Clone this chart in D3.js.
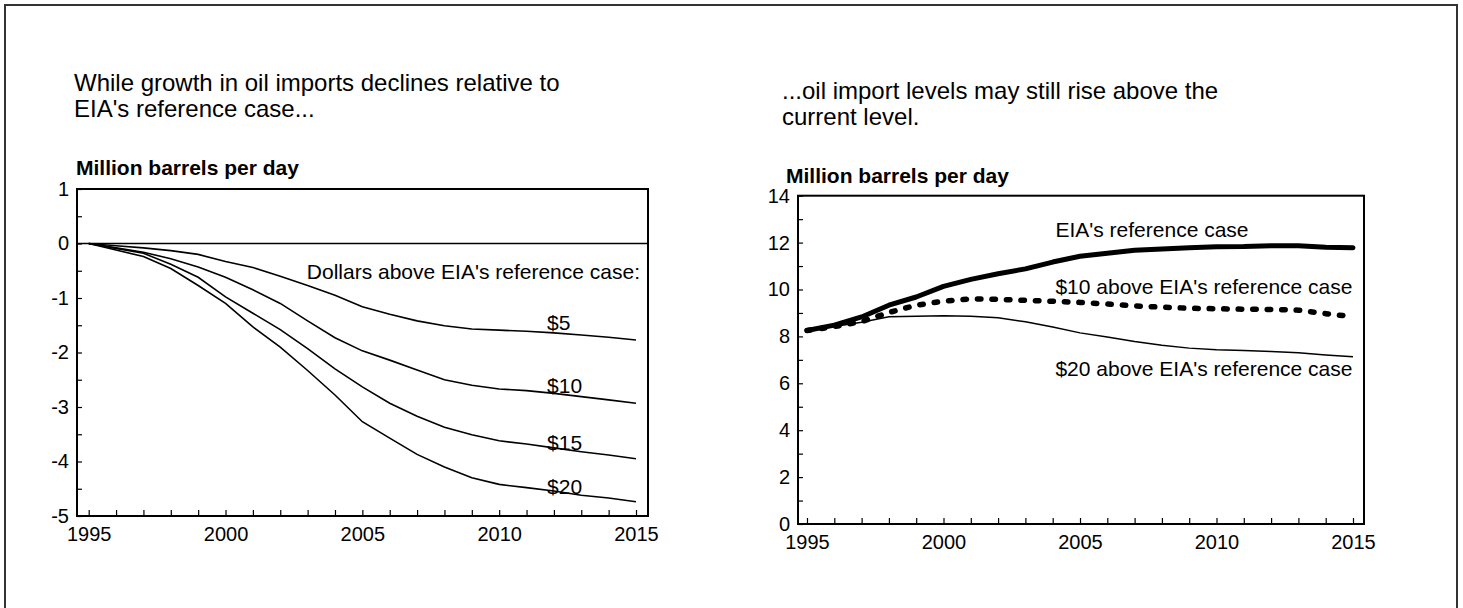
<!DOCTYPE html>
<html>
<head>
<meta charset="utf-8">
<script src="https://cdn.jsdelivr.net/npm/d3@7"></script>
<style>
  html, body { margin: 0; padding: 0; background: #fff; }
  svg { display: block; font-family: "Liberation Sans", Arial, sans-serif; }
</style>
</head>
<body>
<svg id="chart" width="1463" height="608"></svg>
<script>
// ---------- DATA ----------
const years = [1995,1996,1997,1998,1999,2000,2001,2002,2003,2004,2005,2006,2007,2008,2009,2010,2011,2012,2013,2014,2015];
const yearLabels = [1995, 2000, 2005, 2010, 2015];

// Left panel: change in imports vs. EIA reference case (million b/d)
const diff5  = [0,-0.04,-0.08,-0.13,-0.20,-0.33,-0.44,-0.60,-0.77,-0.95,-1.16,-1.30,-1.42,-1.51,-1.57,-1.59,-1.61,-1.64,-1.68,-1.72,-1.77];
const diff10 = [0,-0.08,-0.16,-0.28,-0.43,-0.62,-0.85,-1.10,-1.42,-1.73,-1.97,-2.14,-2.32,-2.50,-2.60,-2.67,-2.70,-2.75,-2.81,-2.87,-2.93];
const diff15 = [0,-0.09,-0.18,-0.38,-0.62,-0.98,-1.28,-1.58,-1.93,-2.30,-2.63,-2.93,-3.17,-3.37,-3.51,-3.62,-3.68,-3.75,-3.82,-3.88,-3.95];
const diff20 = [0,-0.12,-0.24,-0.46,-0.77,-1.10,-1.53,-1.90,-2.33,-2.78,-3.27,-3.57,-3.87,-4.10,-4.30,-4.42,-4.48,-4.54,-4.62,-4.67,-4.74];
const leftSeriesNames = ["$5", "$10", "$15", "$20"];
const leftYTicks = [1, 0, -1, -2, -3, -4, -5];

// Right panel: import levels (million b/d)
const refCase   = [8.25,8.48,8.83,9.33,9.68,10.13,10.43,10.67,10.88,11.17,11.42,11.55,11.67,11.73,11.78,11.82,11.83,11.87,11.87,11.80,11.78];
const above10   = [8.25,8.42,8.63,9.02,9.33,9.50,9.60,9.58,9.54,9.50,9.45,9.38,9.30,9.25,9.20,9.18,9.16,9.15,9.12,8.97,8.84];
const above20   = [8.25,8.42,8.60,8.84,8.86,8.88,8.86,8.80,8.62,8.40,8.15,7.97,7.78,7.62,7.50,7.43,7.40,7.36,7.30,7.21,7.13];
const rightSeriesNames = ["EIA's reference case", "$10 above EIA's reference case", "$20 above EIA's reference case"];
const rightYTicks = [0, 2, 4, 6, 8, 10, 12, 14];

const leftTitle = ["While growth in oil imports declines relative to", "EIA's reference case..."];
const rightTitle = ["...oil import levels may still rise above the", "current level."];
const unitLabel = "Million barrels per day";
const legendNote = "Dollars above EIA's reference case:";

// ---------- DRAW ----------
const svg = d3.select("#chart");

// outer frame
svg.append("rect").attr("x", 5).attr("y", 5).attr("width", 1452).attr("height", 610)
  .attr("fill", "none").attr("stroke", "#333").attr("stroke-width", 2);

function titleBlock(lines, x, y0, lh) {
  const t = svg.append("text").attr("x", x).attr("y", y0).attr("font-size", 24).attr("fill", "#000");
  lines.forEach((l, i) => t.append("tspan").attr("x", x).attr("y", y0 + i * lh).text(l));
}
titleBlock(leftTitle, 74, 91, 26);
titleBlock(rightTitle, 782, 99, 26);
svg.append("text").attr("x", 76).attr("y", 175).attr("font-size", 21).attr("font-weight", "bold").text(unitLabel);
svg.append("text").attr("x", 786).attr("y", 183).attr("font-size", 21).attr("font-weight", "bold").text(unitLabel);

function panel(opts) {
  const { x, y, frame, yTicks, yMinor } = opts;
  const g = svg.append("g");
  const xa = d3.axisBottom(x).tickValues(years).tickSizeInner(-6).tickSizeOuter(0).tickPadding(11)
    .tickFormat(d => yearLabels.includes(d) ? d : "");
  const gx = g.append("g").attr("transform", `translate(0,${frame.y1})`).call(xa);
  gx.select(".domain").remove();
  gx.selectAll("line").attr("stroke", "#000").attr("stroke-width", 1.2);
  gx.selectAll("text").attr("font-size", 20).attr("fill", "#000").attr("font-family", "Liberation Sans, Arial, sans-serif");

  const ya = d3.axisLeft(y).tickValues(yMinor).tickSizeInner(-5).tickSizeOuter(0).tickPadding(8)
    .tickFormat(d => yTicks.includes(d) ? d : "");
  const gy = g.append("g").attr("transform", `translate(${frame.x0},0)`).call(ya);
  gy.select(".domain").remove();
  gy.selectAll("line").attr("stroke", "#000").attr("stroke-width", 1.2);
  gy.selectAll("text").attr("font-size", 20).attr("fill", "#000").attr("font-family", "Liberation Sans, Arial, sans-serif")
    .text(d => yTicks.includes(d) ? String(d).replace("\u2212", "-") : "");

  g.append("rect").attr("x", frame.x0).attr("y", frame.y0)
    .attr("width", frame.x1 - frame.x0).attr("height", frame.y1 - frame.y0)
    .attr("fill", "none").attr("stroke", "#000").attr("stroke-width", 2);
  return g;
}

// ----- Left panel -----
const xL = d3.scaleLinear().domain([1995, 2015]).range([88.7, 636]);
const yL = d3.scaleLinear().domain([-5, 1]).range([516, 189]);
const frameL = { x0: 77, x1: 648, y0: 189, y1: 516 };
const gL = panel({ x: xL, y: yL, frame: frameL, yTicks: leftYTicks, yMinor: d3.range(-5, 1.01, 0.5).map(v => +v.toFixed(1)) });

gL.append("line").attr("x1", frameL.x0).attr("x2", frameL.x1).attr("y1", yL(0)).attr("y2", yL(0))
  .attr("stroke", "#000").attr("stroke-width", 1.5);

const lineL = d3.line().x((d, i) => xL(years[i])).y(d => yL(d));
[diff5, diff10, diff15, diff20].forEach(s => {
  gL.append("path").datum(s).attr("d", lineL).attr("fill", "none").attr("stroke", "#000").attr("stroke-width", 1.6);
});
const leftLabelPos = [[2011.75, -1.58], [2011.75, -2.75], [2011.75, -3.78], [2011.75, -4.6]];
leftSeriesNames.forEach((n, i) => {
  gL.append("text").attr("x", xL(leftLabelPos[i][0])).attr("y", yL(leftLabelPos[i][1]))
    .attr("font-size", 21).attr("fill", "#000").text(n);
});
gL.append("text").attr("x", 640).attr("y", yL(-0.66)).attr("text-anchor", "end")
  .attr("font-size", 21).attr("fill", "#000").text(legendNote);

// ----- Right panel -----
const xR = d3.scaleLinear().domain([1995, 2015]).range([807, 1353]);
const yR = d3.scaleLinear().domain([0, 14]).range([524, 195.7]);
const frameR = { x0: 798, x1: 1364, y0: 195.7, y1: 524 };
const gR = panel({ x: xR, y: yR, frame: frameR, yTicks: rightYTicks, yMinor: d3.range(0, 14.01, 1) });

const lineR = d3.line().x((d, i) => xR(years[i])).y(d => yR(d));
gR.append("path").datum(above20).attr("d", lineR).attr("fill", "none").attr("stroke", "#000").attr("stroke-width", 1.5);
gR.append("path").datum(above10).attr("d", lineR).attr("fill", "none").attr("stroke", "#000").attr("stroke-width", 5.5)
  .attr("stroke-dasharray", "3.5,11").attr("stroke-linecap", "round");
gR.append("path").datum(refCase).attr("d", lineR).attr("fill", "none").attr("stroke", "#000").attr("stroke-width", 5)
  .attr("stroke-linejoin", "round").attr("stroke-linecap", "round");

const rightLabelPos = [[2004.1, 12.25], [2004.1, 9.8], [2004.1, 6.3]];
rightSeriesNames.forEach((n, i) => {
  gR.append("text").attr("x", xR(rightLabelPos[i][0])).attr("y", yR(rightLabelPos[i][1]))
    .attr("font-size", 21).attr("fill", "#000").text(n);
});
</script>
</body>
</html>
